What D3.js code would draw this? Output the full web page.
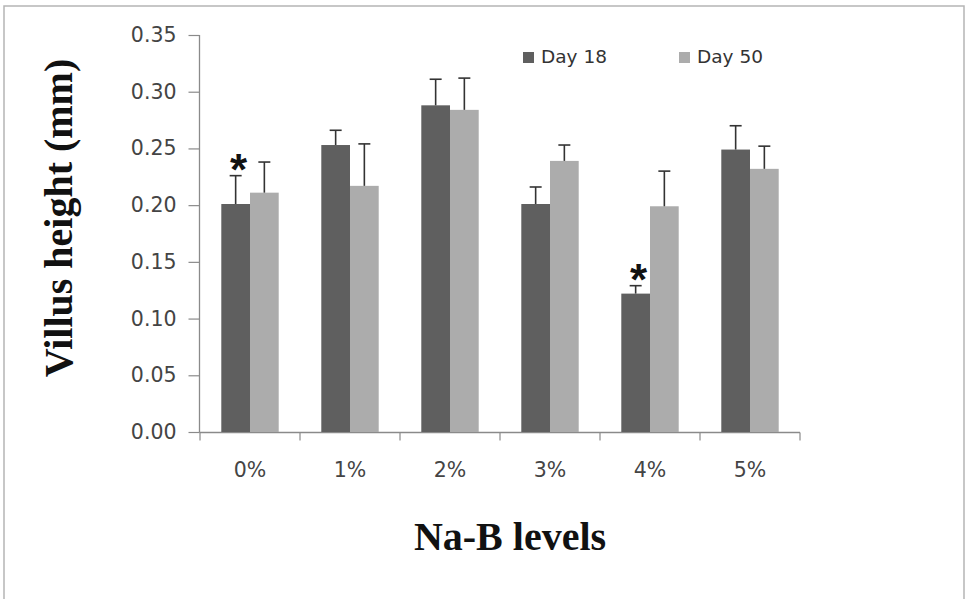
<!doctype html>
<html lang="en">
<head>
  <script src="https://cdnjs.cloudflare.com/ajax/libs/d3/7.8.5/d3.min.js"></script>
  <style type="text/css">
    body {
      padding: 0;
      margin: 0;
      background: #fff;
    }
    #canvas {
      display: block;
    }
  </style>
</head>
<body>
<svg id="canvas"></svg>
<script>

var categories = ['0%', '1%', '2%', '3%', '4%', '5%'];
var seriesNames = ['Day 18', 'Day 50'];
var day18 = [0.201, 0.253, 0.288, 0.201, 0.122, 0.249];
var err18 = [0.025, 0.013, 0.023, 0.015, 0.007, 0.021];
var day50 = [0.211, 0.217, 0.284, 0.239, 0.199, 0.232];
var err50 = [0.027, 0.037, 0.028, 0.014, 0.031, 0.020];
// significance marks sit on the Day 18 bars
var star18 = [true, false, false, false, true, false];
var yTicks = [0, 0.05, 0.10, 0.15, 0.20, 0.25, 0.30, 0.35];

var width = 969;
var height = 599;

var marginLeft = 200;
var marginRight = 800;
var plotTop = 35;
var plotBottom = 432;

var colors = ['rgb(95, 95, 95)', 'rgb(172, 172, 172)'];
var axisColor = '#8a8a8a';
var textFont = '"DejaVu Sans", Verdana, sans-serif';
var titleFont = '"Liberation Serif", "Times New Roman", serif';

var svg = d3.select('#canvas')
  .attr('width', width)
  .attr('height', height)
  .style('background', '#fff');

// outer frame of the figure (no bottom edge in the picture)
svg.append('path')
  .attr('d', 'M4,' + height + 'V6H964V' + height)
  .attr('fill', 'none')
  .attr('stroke', '#b5b5b5')
  .attr('stroke-width', 1.5);

var x0 = d3.scaleBand()
  .domain(categories)
  .range([marginLeft, marginRight])
  .padding(0);

var x1 = d3.scaleBand()
  .domain(seriesNames)
  .range([x0.bandwidth() * 0.213, x0.bandwidth() * 0.787])
  .padding(0);

var y = d3.scaleLinear()
  .domain([0, 0.35])
  .range([plotBottom, plotTop]);

var rows = categories.map(function(c, i) {
  return [
    { cat: c, series: seriesNames[0], value: day18[i], err: err18[i], star: star18[i], color: colors[0] },
    { cat: c, series: seriesNames[1], value: day50[i], err: err50[i], star: false, color: colors[1] }
  ];
});
var bars = [].concat.apply([], rows);

// y axis
var yAxis = svg.append('g')
  .attr('transform', 'translate(' + (marginLeft - 0.5) + ',0)')
  .call(d3.axisLeft(y).tickValues(yTicks).tickFormat(d3.format('.2f'))
    .tickSize(11).tickPadding(12));
yAxis.select('.domain').attr('stroke', axisColor).attr('stroke-width', 1.3)
  .attr('d', 'M0,' + plotTop + 'V' + (plotBottom + 0.5));
yAxis.selectAll('.tick line').attr('stroke', axisColor).attr('stroke-width', 1.2);
yAxis.selectAll('.tick text')
  .style('font-family', textFont)
  .style('font-size', '20.5px')
  .attr('fill', '#444');

// x axis: ticks fall between the categories
var xAxis = svg.append('g')
  .attr('transform', 'translate(0,' + (plotBottom + 0.5) + ')');
xAxis.append('line')
  .attr('x1', marginLeft - 0.5)
  .attr('x2', marginRight)
  .attr('stroke', axisColor)
  .attr('stroke-width', 1.3);
xAxis.selectAll('.xtick').data(categories.concat(['end'])).enter().append('line')
  .attr('x1', function(d, i) { return x0.range()[0] + x0.step() * i; })
  .attr('x2', function(d, i) { return x0.range()[0] + x0.step() * i; })
  .attr('y1', 0)
  .attr('y2', 8)
  .attr('stroke', axisColor)
  .attr('stroke-width', 1.2);
xAxis.selectAll('.xlabel').data(categories).enter().append('text')
  .attr('x', function(d) { return x0(d) + x0.bandwidth() / 2; })
  .attr('y', 44)
  .attr('text-anchor', 'middle')
  .style('font-family', textFont)
  .style('font-size', '20.5px')
  .attr('fill', '#444')
  .text(function(d) { return d; });

// bars
svg.selectAll('.bar').data(bars).enter().append('rect')
  .attr('x', function(d) { return x0(d.cat) + x1(d.series); })
  .attr('y', function(d) { return y(d.value); })
  .attr('width', x1.bandwidth())
  .attr('height', function(d) { return y(0) - y(d.value); })
  .attr('fill', function(d) { return d.color; });

// error bars, upper half only
var capHalf = 6;
var errs = svg.selectAll('.err').data(bars).enter().append('g')
  .attr('stroke', '#333')
  .attr('stroke-width', 1.6);
errs.append('line')
  .attr('x1', function(d) { return x0(d.cat) + x1(d.series) + x1.bandwidth() / 2; })
  .attr('x2', function(d) { return x0(d.cat) + x1(d.series) + x1.bandwidth() / 2; })
  .attr('y1', function(d) { return y(d.value); })
  .attr('y2', function(d) { return y(d.value + d.err); });
errs.append('line')
  .attr('x1', function(d) { return x0(d.cat) + x1(d.series) + x1.bandwidth() / 2 - capHalf; })
  .attr('x2', function(d) { return x0(d.cat) + x1(d.series) + x1.bandwidth() / 2 + capHalf; })
  .attr('y1', function(d) { return y(d.value + d.err); })
  .attr('y2', function(d) { return y(d.value + d.err); });

// asterisks
svg.selectAll('.star').data(bars.filter(function(d) { return d.star; })).enter().append('text')
  .attr('x', function(d) { return x0(d.cat) + x1(d.series) + x1.bandwidth() / 2 + 3; })
  .attr('y', function(d) { return y(d.value + d.err) + 9; })
  .attr('text-anchor', 'middle')
  .style('font-family', '"Liberation Sans", Arial, sans-serif')
  .style('font-weight', 'bold')
  .style('font-size', '44px')
  .attr('fill', '#111')
  .text('*');

// legend
var legend = svg.selectAll('.legend').data(seriesNames).enter().append('g')
  .attr('transform', function(d, i) { return 'translate(' + (523 + i * 156) + ',52)'; });
legend.append('rect')
  .attr('width', 11)
  .attr('height', 11)
  .attr('fill', function(d, i) { return colors[i]; });
legend.append('text')
  .attr('x', 18)
  .attr('y', 11)
  .style('font-family', textFont)
  .style('font-size', '18.5px')
  .attr('fill', '#333')
  .text(function(d) { return d; });

// axis titles
svg.append('text')
  .attr('transform', 'translate(72,218) rotate(-90)')
  .attr('text-anchor', 'middle')
  .style('font-family', titleFont)
  .style('font-weight', 'bold')
  .style('font-size', '40px')
  .attr('fill', '#111')
  .text('Villus height (mm)');

svg.append('text')
  .attr('x', 510)
  .attr('y', 550)
  .attr('text-anchor', 'middle')
  .style('font-family', titleFont)
  .style('font-weight', 'bold')
  .style('font-size', '40px')
  .attr('fill', '#111')
  .text('Na-B levels');

</script>
</body>
</html>
